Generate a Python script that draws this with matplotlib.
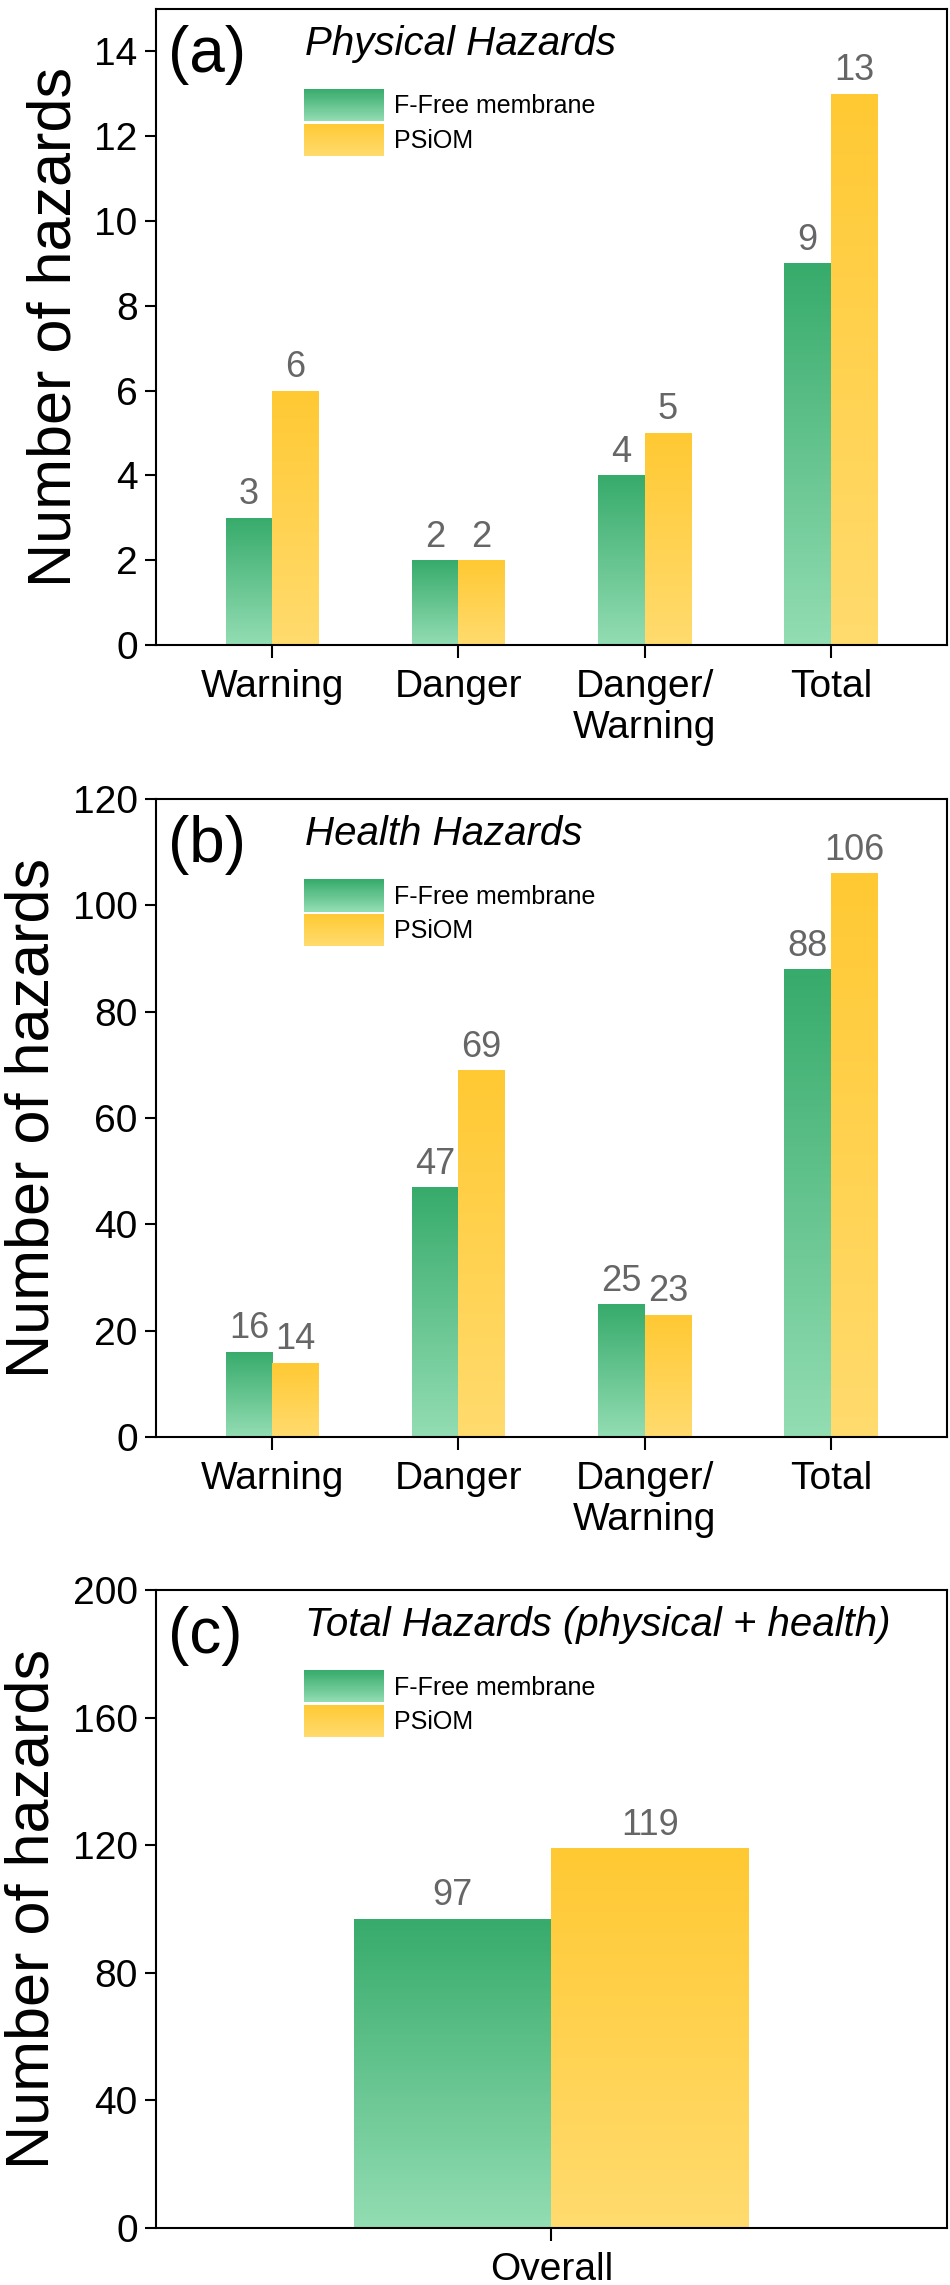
import numpy as np
import matplotlib
matplotlib.use("Agg")
import matplotlib.pyplot as plt
from matplotlib.patches import Rectangle
from matplotlib.legend_handler import HandlerBase
from matplotlib.colors import LinearSegmentedColormap

plt.rcParams['font.family'] = ['Liberation Sans', 'DejaVu Sans']

# ---------------- data ----------------
categories = ["Warning", "Danger", "Danger/\nWarning", "Total"]
physical_ffree = [3, 2, 4, 9]
physical_psiom = [6, 2, 5, 13]
health_ffree = [16, 47, 25, 88]
health_psiom = [14, 69, 23, 106]
overall_categories = ["Overall"]
overall_ffree = [97]
overall_psiom = [119]
series_names = ["F-Free membrane", "PSiOM"]
panel_letters = ["(a)", "(b)", "(c)"]
panel_titles = ["Physical Hazards", "Health Hazards", "Total Hazards (physical + health)"]
ylims = [(0, 15), (0, 120), (0, 200)]
yticks = [np.arange(0, 15, 2), np.arange(0, 121, 20), np.arange(0, 201, 40)]

# gradient colours (top -> bottom)
green_top, green_bot = "#37ab6b", "#93ddb3"
yellow_top, yellow_bot = "#ffc933", "#ffdb6e"
cmap_g = LinearSegmentedColormap.from_list("g", [green_bot, green_top])
cmap_y = LinearSegmentedColormap.from_list("y", [yellow_bot, yellow_top])
grad = np.linspace(0, 1, 256).reshape(-1, 1)


def gradient_bars(ax, x, h, width, cmap):
    bars = ax.bar(x, h, width=width, facecolor='none', edgecolor='none', zorder=2)
    for r in bars:
        x0, y0 = r.get_x(), r.get_y()
        w, hh = r.get_width(), r.get_height()
        im = ax.imshow(grad, cmap=cmap, origin='lower', aspect='auto',
                       extent=[x0, x0 + w, y0, y0 + hh], zorder=1,
                       interpolation='bilinear')
        im.set_clip_path(r)
    return bars


class GradientHandler(HandlerBase):
    def __init__(self, top, bot, n=30):
        super().__init__()
        self.cmap = LinearSegmentedColormap.from_list("h", [bot, top])
        self.n = n

    def create_artists(self, legend, orig_handle, xdescent, ydescent,
                       width, height, fontsize, trans):
        arts = []
        for i in range(self.n):
            c = self.cmap((i + 0.5) / self.n)
            rect = Rectangle((-xdescent, -ydescent + height * i / self.n),
                             width, height / self.n * 1.05,
                             facecolor=c, edgecolor='none', transform=trans)
            arts.append(rect)
        return arts


fig = plt.figure(figsize=(9.5, 22.85), dpi=100)
axes_rects = [
    [0.164, 0.7177, 0.833, 0.2784],
    [0.164, 0.3711, 0.833, 0.2792],
    [0.164, 0.0249, 0.833, 0.2793],
]

datasets = [
    (categories, physical_ffree, physical_psiom),
    (categories, health_ffree, health_psiom),
    (overall_categories, overall_ffree, overall_psiom),
]

for i, (cats, f, p) in enumerate(datasets):
    ax = fig.add_axes(axes_rects[i])
    x = np.arange(len(cats))
    if i < 2:
        w = 0.25
        ax.set_xlim(-0.625, len(cats) - 1 + 0.625)
    else:
        w = 0.5
        ax.set_xlim(-1, 1)
    b1 = gradient_bars(ax, x - w / 2, f, w, cmap_g)
    b2 = gradient_bars(ax, x + w / 2, p, w, cmap_y)
    ax.bar_label(b1, labels=[str(v) for v in f], padding=4, fontsize=26, color="#666666")
    ax.bar_label(b2, labels=[str(v) for v in p], padding=4, fontsize=26, color="#666666")
    ax.set_ylim(*ylims[i])
    ax.set_yticks(yticks[i])
    ax.set_xticks(x)
    ax.set_xticklabels(cats, fontsize=28, linespacing=1.2)
    ax.tick_params(axis='y', labelsize=28, direction='out', length=8, width=1.5, pad=5)
    ax.tick_params(axis='x', direction='out', length=9, width=1.5, pad=8)
    for s in ax.spines.values():
        s.set_linewidth(1.5)
    ax.set_ylabel("Number of hazards", fontsize=44, labelpad=8)

    ax.text(0.015, 0.928, panel_letters[i], transform=ax.transAxes, fontsize=46,
            va='center', ha='left')
    ax.text(0.188, 0.945, panel_titles[i], transform=ax.transAxes, fontsize=29,
            style='italic', va='center', ha='left')

    h1 = Rectangle((0, 0), 1, 1)
    h2 = Rectangle((0, 0), 1, 1)
    leg = ax.legend([h1, h2], series_names, loc='upper left',
                    bbox_to_anchor=(0.187, 0.874), borderaxespad=0, borderpad=0,
                    frameon=False, fontsize=18, handlelength=3.2, handleheight=1.6,
                    handletextpad=0.4, labelspacing=0.1,
                    handler_map={h1: GradientHandler(green_top, green_bot),
                                 h2: GradientHandler(yellow_top, yellow_bot)})

fig.savefig("out.png", dpi=100)
